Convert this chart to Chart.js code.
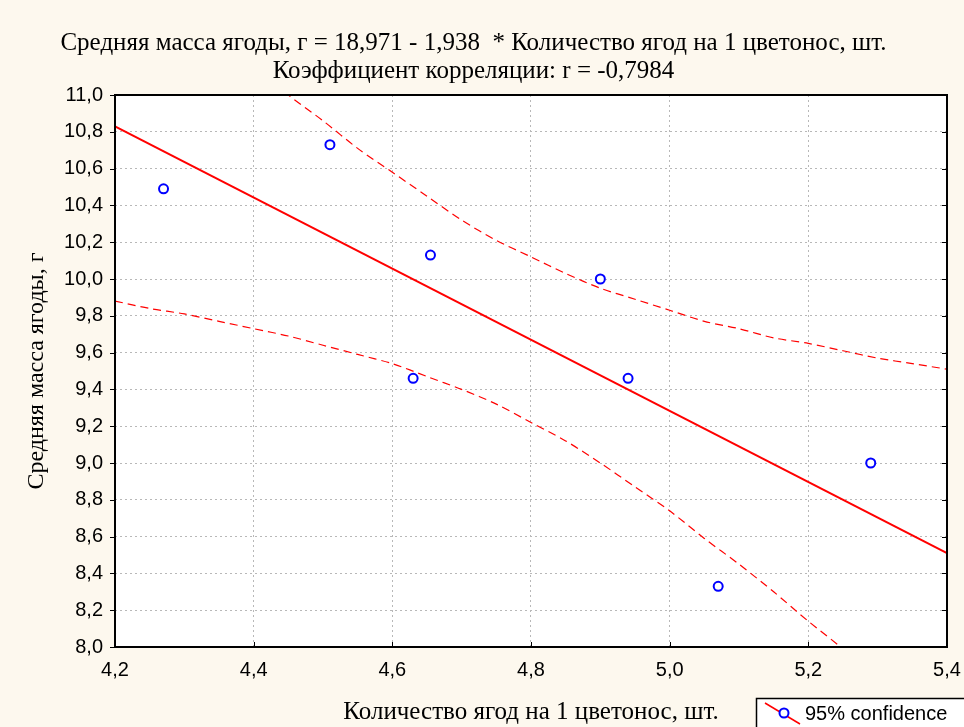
<!DOCTYPE html>
<html>
<head>
<meta charset="utf-8">
<script src="https://cdn.jsdelivr.net/npm/chart.js@4.4.1/dist/chart.umd.min.js"></script>
<style>
  html, body { margin: 0; padding: 0; background: #fdf8ee; }
  #wrap { width: 964px; height: 727px; position: relative; }
</style>
</head>
<body>
<div id="wrap"><canvas id="chart"></canvas></div>
<script>
// observed points
const massaX = [4.27, 4.51, 4.655, 4.63, 4.90, 4.94, 5.07, 5.29];
const massaY = [10.49, 10.73, 10.13, 9.46, 10.0, 9.46, 8.33, 9.0];

// regression line r = 18,971 - 1,938 * x
const fitX = [4.2, 5.4];
const fitY = [10.83, 8.51];

// 95% confidence band
const bandX = [4.2, 4.25, 4.3, 4.35, 4.4, 4.45, 4.5, 4.55, 4.6, 4.65, 4.7, 4.75, 4.8,
  4.85, 4.9, 4.95, 5.0, 5.05, 5.1, 5.15, 5.2, 5.25, 5.3, 5.35, 5.4];
const bandUpper = [11.79, 11.63, 11.47, 11.31, 11.16, 11.0, 10.86, 10.71, 10.58, 10.45, 10.32, 10.21, 10.12,
  10.03, 9.95, 9.89, 9.83, 9.77, 9.73, 9.68, 9.65, 9.61, 9.57, 9.54, 9.51];
const bandLower = [9.88, 9.84, 9.81, 9.77, 9.73, 9.69, 9.64, 9.59, 9.54, 9.47, 9.4, 9.32, 9.22,
  9.12, 9.0, 8.87, 8.74, 8.59, 8.45, 8.3, 8.14, 7.99, 7.83, 7.67, 7.51];

const xTicks = [4.2, 4.4, 4.6, 4.8, 5.0, 5.2, 5.4];

const toPts = (xs, ys) => xs.map((x, i) => ({ x: x, y: ys[i] }));
const fmt = (v) => v.toFixed(1).replace(".", ",");
const serif = "'Liberation Serif', 'Times New Roman', serif";
const sans = "'Liberation Sans', Arial, sans-serif";

const frame = {
  id: "frame",
  afterDraw: function (chart) {
    const { ctx, chartArea, scales } = chart;
    const { left, right, top, bottom } = chartArea;
    ctx.save();
    ctx.strokeStyle = "#000";
    ctx.lineWidth = 2;
    ctx.strokeRect(left, top, right - left, bottom - top);
    ctx.lineWidth = 1;
    ctx.beginPath();
    scales.y.ticks.forEach((t) => {
      const py = Math.round(scales.y.getPixelForValue(t.value)) + 0.5;
      ctx.moveTo(left - 5, py);
      ctx.lineTo(left, py);
      ctx.moveTo(right - 5, py);
      ctx.lineTo(right, py);
    });
    scales.x.ticks.forEach((t) => {
      const px = Math.round(scales.x.getPixelForValue(t.value)) + 0.5;
      ctx.moveTo(px, bottom);
      ctx.lineTo(px, bottom - 5);
    });
    ctx.stroke();

    // legend box in bottom right corner
    ctx.fillStyle = "#fff";
    ctx.fillRect(756, 698, 220, 40);
    ctx.strokeStyle = "#000";
    ctx.lineWidth = 1.5;
    ctx.strokeRect(756.5, 698.5, 220, 40);
    ctx.strokeStyle = "#ff0000";
    ctx.lineWidth = 1.5;
    ctx.beginPath();
    ctx.moveTo(765, 703);
    ctx.lineTo(800, 724);
    ctx.stroke();
    ctx.fillStyle = "#fff";
    ctx.strokeStyle = "#0000ff";
    ctx.lineWidth = 2;
    ctx.beginPath();
    ctx.arc(784, 713, 4.5, 0, Math.PI * 2);
    ctx.fill();
    ctx.stroke();
    ctx.fillStyle = "#000";
    ctx.font = "20px " + sans;
    ctx.textBaseline = "middle";
    ctx.fillText("95% confidence", 805, 714);
    ctx.restore();
  },
};

const plotBg = {
  id: "plotBg",
  beforeDraw: function (chart) {
    const { ctx, chartArea } = chart;
    ctx.save();
    ctx.fillStyle = "#fdf8ee";
    ctx.fillRect(0, 0, chart.width, chart.height);
    ctx.fillStyle = "#fff";
    ctx.fillRect(chartArea.left, chartArea.top, chartArea.right - chartArea.left, chartArea.bottom - chartArea.top);
    ctx.restore();
  },
};

document.addEventListener("DOMContentLoaded", function () {
  const chart = document.getElementById("chart");

  new Chart(chart, {
    type: "scatter",
    data: {
      datasets: [
        {
          label: "upper",
          data: toPts(bandX, bandUpper),
          showLine: true,
          borderColor: "#ff0000",
          borderWidth: 1.2,
          borderDash: [8, 5],
          pointRadius: 0,
          tension: 0.3,
        },
        {
          label: "lower",
          data: toPts(bandX, bandLower),
          showLine: true,
          borderColor: "#ff0000",
          borderWidth: 1.2,
          borderDash: [8, 5],
          pointRadius: 0,
          tension: 0.3,
        },
        {
          label: "fit",
          data: toPts(fitX, fitY),
          showLine: true,
          borderColor: "#ff0000",
          borderWidth: 2,
          pointRadius: 0,
        },
        {
          label: "95% confidence",
          data: toPts(massaX, massaY),
          pointRadius: 4.5,
          pointBorderWidth: 2,
          pointBorderColor: "#0000ff",
          pointBackgroundColor: "#fff",
        },
      ],
    },
    options: {
      responsive: true,
      maintainAspectRatio: false,
      animation: false,
      layout: { padding: { left: 0, right: 17, top: 0, bottom: 0 } },
      plugins: {
        legend: { display: false },
        tooltip: { enabled: false },
        title: {
          display: true,
          text: [
            "Средняя масса ягоды, г = 18,971 - 1,938  * Количество ягод на 1 цветонос, шт.",
            "Коэффициент корреляции: r = -0,7984",
          ],
          color: "#000",
          font: { family: serif, size: 25, weight: "normal", lineHeight: 1.12 },
          padding: { top: 29, bottom: 10 },
        },
      },
      scales: {
        x: {
          type: "linear",
          min: 4.2,
          max: 5.4,
          afterBuildTicks: (axis) => {
            axis.ticks = xTicks.map((v) => ({ value: v }));
          },
          afterFit: (axis) => {
            axis.height = 80;
            axis.paddingLeft = 0;
            axis.paddingRight = 0;
          },
          ticks: {
            color: "#000",
            font: { family: sans, size: 20 },
            padding: 11,
            callback: (v) => fmt(v),
          },
          grid: { color: "#b8b8b8", lineWidth: 1, drawTicks: false },
          border: { display: false, dash: [2, 3] },
          title: {
            display: true,
            text: "Количество ягод на 1 цветонос, шт.",
            color: "#000",
            font: { family: serif, size: 25 },
            padding: { top: 10, bottom: 0 },
          },
        },
        y: {
          min: 8,
          max: 11,
          afterFit: (axis) => {
            axis.width = 115;
          },
          ticks: {
            stepSize: 0.2,
            color: "#000",
            font: { family: sans, size: 20 },
            padding: 12,
            callback: (v) => fmt(v),
          },
          grid: { color: "#b8b8b8", lineWidth: 1, drawTicks: false },
          border: { display: false, dash: [2, 3] },
          title: {
            display: true,
            text: "Средняя масса ягоды, г",
            color: "#000",
            font: { family: serif, size: 24 },
            padding: { top: 22, bottom: 0 },
          },
        },
      },
    },
    plugins: [plotBg, frame],
  });
});
</script>
</body>
</html>
